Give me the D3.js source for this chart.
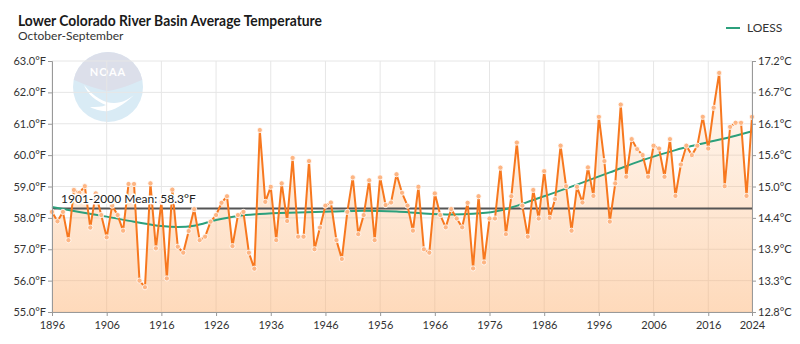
<!DOCTYPE html>
<html>
<head>
<meta charset="utf-8">
<script src="https://cdn.jsdelivr.net/npm/d3@7"></script>
<style>
  html, body { margin: 0; padding: 0; background: #fff; }
  svg { display: block; font-family: Lato, "Noto Sans", sans-serif; }
</style>
</head>
<body>
<svg id="chart" width="800" height="344"></svg>
<script>
// ---------------- data ----------------
const years = d3.range(1896, 2025);
const tempF = [
  58.19, 57.89, 58.19, 57.29, 58.89, 58.80, 59.01, 57.69, 58.78, 58.09,
  57.38, 58.39, 58.09, 57.59, 59.08, 59.08, 56.00, 55.79, 59.10, 57.03,
  58.51, 56.07, 58.90, 57.08, 56.89, 57.58, 58.28, 57.29, 57.40, 57.88,
  58.09, 58.48, 58.69, 57.10, 58.09, 58.19, 56.89, 56.38, 60.80, 58.51,
  58.99, 57.29, 59.10, 57.90, 59.91, 57.40, 57.40, 59.81, 57.00, 57.69,
  58.39, 58.49, 57.29, 56.69, 58.19, 59.29, 57.48, 58.09, 59.20, 57.29,
  59.29, 58.41, 58.49, 59.39, 58.80, 58.39, 57.59, 58.99, 57.00, 56.89,
  58.78, 58.09, 57.70, 58.28, 57.98, 57.70, 58.48, 56.39, 58.69, 56.58,
  57.98, 57.98, 59.60, 57.48, 58.69, 60.40, 58.39, 57.40, 58.89, 57.98,
  59.49, 58.00, 58.60, 60.30, 59.01, 57.59, 58.99, 58.49, 59.61, 58.70,
  61.22, 59.81, 57.88, 59.10, 61.61, 59.31, 60.51, 60.19, 60.00, 59.31,
  60.30, 60.21, 59.31, 60.51, 58.70, 59.70, 60.30, 60.00, 60.30, 61.22,
  60.21, 61.51, 62.62, 59.01, 60.90, 61.03, 61.03, 58.70, 61.22
];
const loessYears = [1896, 1901, 1906, 1911, 1916, 1919, 1922, 1926, 1930, 1934, 1941, 1947, 1953, 1959, 1964, 1969, 1973, 1977, 1980, 1984, 1987, 1992, 1998, 2004, 2010, 2015, 2021, 2024];
const loessF = [58.35, 58.19, 58.04, 57.88, 57.74, 57.71, 57.75, 57.93, 58.06, 58.12, 58.17, 58.20, 58.23, 58.20, 58.14, 58.11, 58.13, 58.20, 58.33, 58.57, 58.75, 59.06, 59.45, 59.84, 60.16, 60.37, 60.62, 60.76];
const meanF = 58.3;
const meanLabel = "1901-2000 Mean: 58.3°F";
const xTicks = [1896, 1906, 1916, 1926, 1936, 1946, 1956, 1966, 1976, 1986, 1996, 2006, 2016, 2024];
const yTicksF = [55, 56, 57, 58, 59, 60, 61, 62, 63];
const yLabelsF = ["55.0°F", "56.0°F", "57.0°F", "58.0°F", "59.0°F", "60.0°F", "61.0°F", "62.0°F", "63.0°F"];
const yLabelsC = ["12.8°C", "13.3°C", "13.9°C", "14.4°C", "15.0°C", "15.6°C", "16.1°C", "16.7°C", "17.2°C"];
const titleText = "Lower Colorado River Basin Average Temperature";
const subtitleText = "October-September";
const legendText = "LOESS";

// ---------------- layout ----------------
const svg = d3.select("#chart");
const L = 52, R = 752, T = 61, B = 312;
const x = d3.scaleLinear().domain([1896, 2024]).range([L, R]);
const y = d3.scaleLinear().domain([55, 63]).range([B, T]);

const defs = svg.append("defs");
const grad = defs.append("linearGradient").attr("id", "fillGrad")
  .attr("gradientUnits", "userSpaceOnUse").attr("x1", 0).attr("x2", 0).attr("y1", T).attr("y2", B);
grad.append("stop").attr("offset", "0%").attr("stop-color", "#fdae6b").attr("stop-opacity", 0.06);
grad.append("stop").attr("offset", "100%").attr("stop-color", "#fdae6b").attr("stop-opacity", 0.46);

// title
svg.append("text").attr("x", 18).attr("y", 26).attr("font-size", 15).attr("font-weight", 700)
  .attr("fill", "#1a1a1a").attr("textLength", 304).attr("lengthAdjust", "spacingAndGlyphs").text(titleText);
svg.append("text").attr("x", 18).attr("y", 40).attr("font-size", 12).attr("fill", "#333")
  .text(subtitleText);

// legend
svg.append("line").attr("x1", 726).attr("x2", 740).attr("y1", 28).attr("y2", 28)
  .attr("stroke", "#2ca07c").attr("stroke-width", 2);
svg.append("text").attr("x", 747).attr("y", 32).attr("font-size", 12).attr("fill", "#333").text(legendText);

// logo watermark
const logo = svg.append("g").attr("transform", "translate(108,87)").attr("opacity", 0.9);
defs.append("clipPath").attr("id", "logoClip").append("circle").attr("r", 35);
const lg = logo.append("g").attr("clip-path", "url(#logoClip)");
lg.append("rect").attr("x", -36).attr("y", -36).attr("width", 72).attr("height", 72).attr("fill", "#d5e9f5");
lg.append("path").attr("d", "M-36,-36 L36,-36 L36,-8 C22,-2 12,2 0,4 C-12,2 -22,-2 -36,-8 Z").attr("fill", "#d9dce8");
lg.append("path").attr("d", "M-24,-2 C-14,10 -4,16 6,16 C14,16 22,12 28,6 C20,14 10,22 0,24 C-6,25 -14,22 -18,20 C-12,20 -6,20 -2,18 C-12,14 -20,8 -24,-2 Z").attr("fill", "#ffffff");
logo.append("text").attr("x", 0).attr("y", -11).attr("text-anchor", "middle").attr("font-size", 11)
  .attr("font-weight", 700).attr("fill", "#ffffff").attr("letter-spacing", 1).text("NOAA");

// grid
const grid = svg.append("g");
grid.selectAll("line.h").data(yTicksF).join("line")
  .attr("x1", L).attr("x2", R).attr("y1", d => y(d)).attr("y2", d => y(d))
  .attr("stroke", "#e6e6e6").attr("stroke-width", 1);
grid.selectAll("line.v").data(xTicks).join("line")
  .attr("x1", d => x(d)).attr("x2", d => x(d)).attr("y1", T).attr("y2", B)
  .attr("stroke", "#e6e6e6").attr("stroke-width", 1);

const data = years.map((yr, i) => ({ yr, v: tempF[i] }));

// area
svg.append("path").datum(data)
  .attr("d", d3.area().x(d => x(d.yr)).y0(B).y1(d => y(d.v)))
  .attr("fill", "url(#fillGrad)");

// mean line
svg.append("line").attr("x1", L).attr("x2", R).attr("y1", y(meanF)).attr("y2", y(meanF))
  .attr("stroke", "#555").attr("stroke-width", 2);

// LOESS
const loess = loessYears.map((yr, i) => ({ yr, v: loessF[i] }));
svg.append("path").datum(loess)
  .attr("d", d3.line().x(d => x(d.yr)).y(d => y(d.v)).curve(d3.curveMonotoneX))
  .attr("fill", "none").attr("stroke", "#2ca07c").attr("stroke-width", 2);

// temperature line
svg.append("path").datum(data)
  .attr("d", d3.line().x(d => x(d.yr)).y(d => y(d.v)))
  .attr("fill", "none").attr("stroke", "#f7781f").attr("stroke-width", 2).attr("stroke-linejoin", "round");
svg.append("g").selectAll("circle").data(data).join("circle")
  .attr("cx", d => x(d.yr)).attr("cy", d => y(d.v)).attr("r", 2.6)
  .attr("fill", "#fdb583").attr("stroke", "#fff").attr("stroke-width", 0.8);

// mean label
svg.append("text").attr("x", 61).attr("y", y(meanF) - 5).attr("font-size", 12).attr("fill", "#222")
  .attr("stroke", "#fff").attr("stroke-width", 3).attr("paint-order", "stroke").attr("stroke-linejoin", "round")
  .text(meanLabel);

// axes
const axisColor = "#999";
const yAxisL = svg.append("g").attr("transform", `translate(${L},0)`)
  .call(d3.axisLeft(y).tickValues(yTicksF).tickSize(4).tickPadding(2).tickFormat((d, i) => yLabelsF[i]));
const yAxisR = svg.append("g").attr("transform", `translate(${R},0)`)
  .call(d3.axisRight(y).tickValues(yTicksF).tickSize(4).tickPadding(2).tickFormat((d, i) => yLabelsC[i]));
const xAxis = svg.append("g").attr("transform", `translate(0,${B})`)
  .call(d3.axisBottom(x).tickValues(xTicks).tickSize(4).tickPadding(5).tickFormat(d3.format("d")));
[yAxisL, yAxisR, xAxis].forEach(g => {
  g.select(".domain").attr("stroke", axisColor);
  g.selectAll(".tick line").attr("stroke", axisColor);
  g.selectAll(".tick text").attr("fill", "#333").attr("font-size", 11).attr("font-family", "Lato, 'Noto Sans', sans-serif");
});
</script>
</body>
</html>
